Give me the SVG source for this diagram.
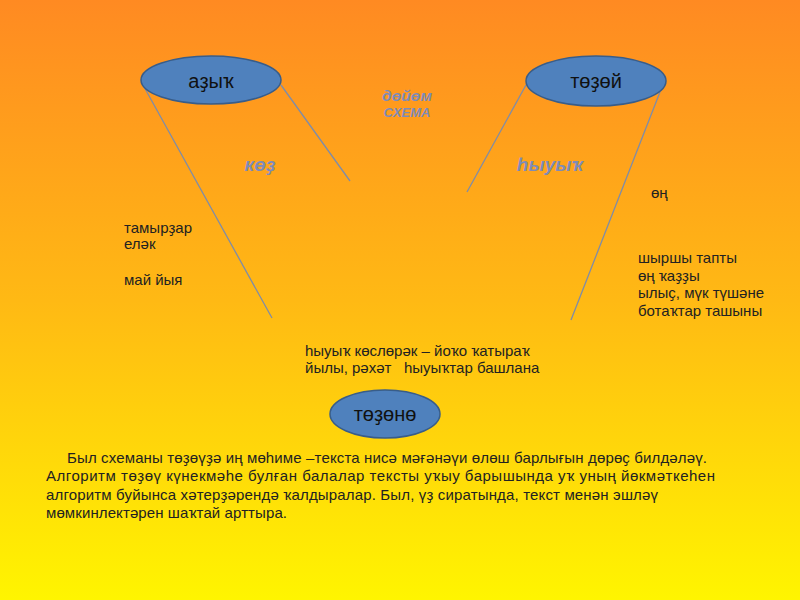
<svg xmlns="http://www.w3.org/2000/svg" width="800" height="600" viewBox="0 0 800 600">
<defs>
<linearGradient id="bg" x1="0" y1="0" x2="0" y2="1">
<stop offset="0" stop-color="#FF8A22"/>
<stop offset="0.5" stop-color="#FFB914"/>
<stop offset="1" stop-color="#FFF500"/>
</linearGradient>
</defs>
<style>
.node ellipse{fill:#4F81BD;stroke:#385D8A;stroke-width:1.5}
.node text{font-family:"Liberation Sans",Arial,sans-serif;font-size:20px;fill:#111;text-anchor:middle}
.conn line{stroke:#7F8CA8;stroke-width:1.3}
.lbl{font-family:"Liberation Sans",Arial,sans-serif;font-size:15px;fill:#222}
.hd{font-family:"Liberation Sans",Arial,sans-serif;font-weight:bold;font-style:italic;fill:#7E8BB8;text-anchor:middle}
</style>
<rect width="800" height="600" fill="url(#bg)"/>
<g id="connectors" class="conn">
<line x1="143" y1="85" x2="272" y2="318"/>
<line x1="281" y1="85" x2="350" y2="181"/>
<line x1="526" y1="85" x2="467" y2="192"/>
<line x1="660" y1="92" x2="571" y2="320"/>
</g>
<g id="node-azyk" class="node">
<ellipse cx="211" cy="80" rx="70" ry="24"/>
<text x="211" y="88">аҙыҡ</text>
</g>
<g id="node-tozoy" class="node">
<ellipse cx="596" cy="81" rx="70" ry="25"/>
<text x="596" y="88">төҙөй</text>
</g>
<g id="node-tozono" class="node">
<ellipse cx="385" cy="414" rx="55" ry="24"/>
<text x="385" y="421">төҙөнө</text>
</g>
<g id="labels">
<text class="hd" x="407" y="101" font-size="14" textLength="50" lengthAdjust="spacingAndGlyphs">дөйөм</text>
<text class="hd" x="407" y="117" font-size="13">СХЕМА</text>
<text class="hd" x="260" y="171" font-size="19">көҙ</text>
<text class="hd" x="550" y="171" font-size="19">һыуыҡ</text>
<text class="lbl" x="124" y="233">тамырҙар</text>
<text class="lbl" x="124" y="249">еләк</text>
<text class="lbl" x="124" y="285">май йыя</text>
<text class="lbl" x="651" y="198">өң</text>
<text class="lbl" x="638" y="263">шыршы тапты</text>
<text class="lbl" x="638" y="281">өң ҡаҙҙы</text>
<text class="lbl" x="638" y="298">ылыҫ, мүк түшәне</text>
<text class="lbl" x="638" y="316">ботаҡтар ташыны</text>
<text class="lbl" x="305" y="356">һыуыҡ көслөрәк – йоҡо ҡатыраҡ</text>
<text class="lbl" x="305" y="373" xml:space="preserve">йылы, рәхәт   һыуыҡтар башлана</text>
<text class="lbl" x="67" y="463" textLength="640" lengthAdjust="spacing">Был схеманы төҙөүҙә иң мөһиме –текста нисә мәғәнәүи өлөш барлығын дөрөҫ билдәләү.</text>
<text class="lbl" x="46" y="481" textLength="669" lengthAdjust="spacing">Алгоритм төҙөү күнекмәһе булған балалар тексты уҡыу барышында уҡ уның йөкмәткеһен</text>
<text class="lbl" x="46" y="500" textLength="612" lengthAdjust="spacing">алгоритм буйынса хәтерҙәрендә ҡалдыралар. Был, үҙ сиратында, текст менән эшләү</text>
<text class="lbl" x="46" y="518" textLength="241" lengthAdjust="spacing">мөмкинлектәрен шаҡтай арттыра.</text>
</g>
</svg>
